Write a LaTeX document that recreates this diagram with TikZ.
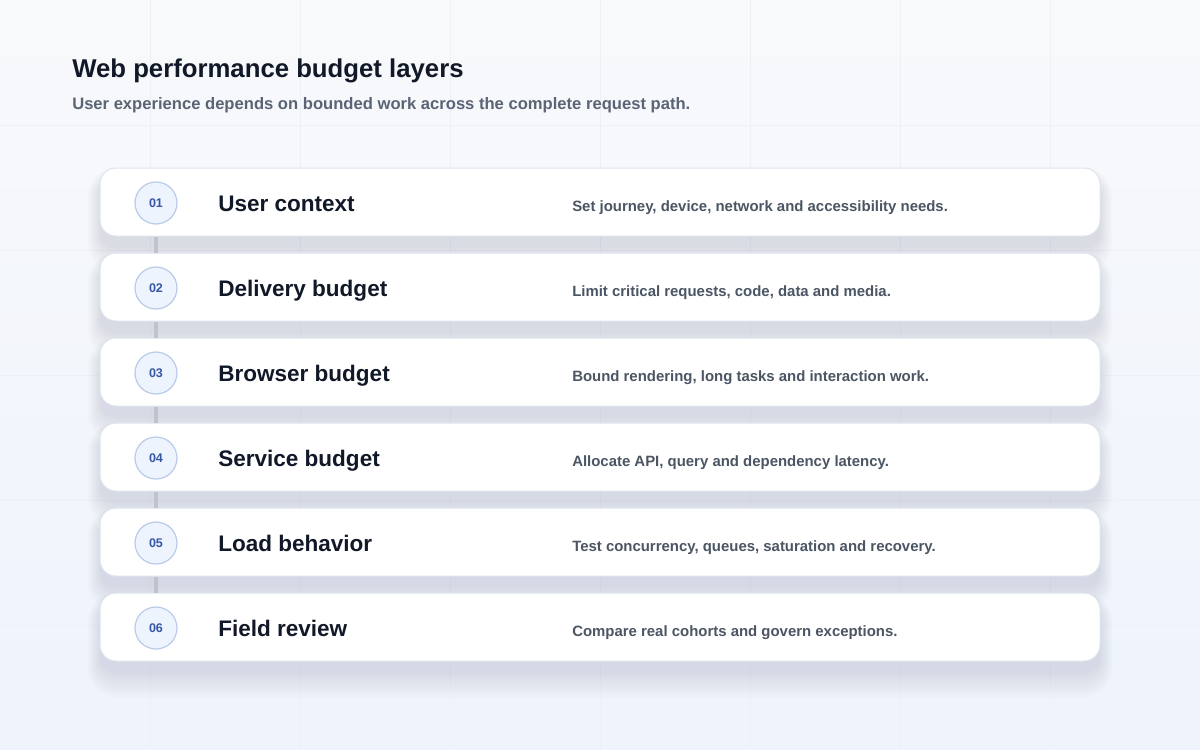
\documentclass[tikz,border=0pt]{standalone}
\usepackage{fontspec}
\setmainfont{Liberation Sans}
\usepackage{tikz}
\usetikzlibrary{calc, positioning}

\definecolor{inkdark}{HTML}{111827}
\definecolor{inksub}{HTML}{5A6475}
\definecolor{inkdesc}{HTML}{4B5563}
\definecolor{badgeink}{HTML}{3557A5}
\definecolor{badgefill}{HTML}{EEF4FD}
\definecolor{badgeline}{HTML}{B9CBE8}
\definecolor{linkgray}{HTML}{BFC3CC}
\definecolor{cardline}{HTML}{DDE3EE}
\definecolor{gridline}{HTML}{EDF0F6}
\definecolor{shadowcol}{HTML}{3C4A6E}
\definecolor{bgtop}{HTML}{F8F9FB}
\definecolor{bgbottom}{HTML}{EEF3FC}

\tikzset{
  card/.style={draw=cardline, line width=0.75pt, fill=white, rounded corners=12pt,
               minimum width=750pt, minimum height=51pt, inner sep=0pt},
  badge/.style={circle, draw=badgeline, line width=0.9pt, fill=badgefill,
                minimum size=31.5pt, inner sep=0pt, text=badgeink,
                font=\fontsize{9.4}{10}\selectfont\bfseries},
  cardtitle/.style={anchor=base west, inner sep=0pt, text=inkdark,
                    font=\fontsize{16.9}{19}\selectfont\bfseries},
  carddesc/.style={anchor=base west, inner sep=0pt, text=inkdesc,
                   font=\fontsize{11.2}{13}\selectfont\bfseries},
  link/.style={draw=linkgray, line width=2.4pt},
}

\begin{document}
\begin{tikzpicture}[x=0.75pt, y=-0.75pt]

% --- Canvas and background ---
\useasboundingbox (0,0) rectangle (1200,750);
\shade[top color=bgtop, bottom color=bgbottom] (0,0) rectangle (1200,750);
\foreach \gx in {150,300,...,1050} \draw[gridline, line width=0.75pt] (\gx,0) -- (\gx,750);
\foreach \gy in {125,250,...,625} \draw[gridline, line width=0.75pt] (0,\gy) -- (1200,\gy);

% --- Heading ---
\node[anchor=base west, inner sep=0pt, text=inkdark, font=\fontsize{19.3}{23}\selectfont\bfseries]
  (heading) at (72,77) {Web performance budget layers};
\node[anchor=base west, inner sep=0pt, text=inksub, font=\fontsize{12.45}{15}\selectfont\bfseries]
  (subheading) at (72,109) {User experience depends on bounded work across the complete request path.};

% --- Soft shadows under the cards ---
\foreach \cy in {202,287,372,457,542,627}
  \foreach \e in {0,3,...,24}
    \fill[shadowcol, opacity=0.016, rounded corners={(16+\e/2)*0.75pt}]
      (100-\e/2,\cy-34+12-\e/2) rectangle (1100+\e/2,\cy+34+12+\e);

% --- Cards ---
\node[card] (c1) at (600,202) {};
\node[card] (c2) at (600,287) {};
\node[card] (c3) at (600,372) {};
\node[card] (c4) at (600,457) {};
\node[card] (c5) at (600,542) {};
\node[card] (c6) at (600,627) {};

% --- Step badges ---
\node[badge] (n1) at (156,203) {01};
\node[badge] (n2) at (156,288) {02};
\node[badge] (n3) at (156,373) {03};
\node[badge] (n4) at (156,458) {04};
\node[badge] (n5) at (156,543) {05};
\node[badge] (n6) at (156,628) {06};

% --- Links between steps ---
\draw[link] (n1 |- c1.south) -- (n2 |- c2.north);
\draw[link] (n2 |- c2.south) -- (n3 |- c3.north);
\draw[link] (n3 |- c3.south) -- (n4 |- c4.north);
\draw[link] (n4 |- c4.south) -- (n5 |- c5.north);
\draw[link] (n5 |- c5.south) -- (n6 |- c6.north);

% --- Layer names ---
\node[cardtitle] (t1) at (218,211) {User context};
\node[cardtitle] (t2) at (218,296) {Delivery budget};
\node[cardtitle] (t3) at (218,381) {Browser budget};
\node[cardtitle] (t4) at (218,466) {Service budget};
\node[cardtitle] (t5) at (218,551) {Load behavior};
\node[cardtitle] (t6) at (218,636) {Field review};

% --- Descriptions ---
\node[carddesc] (d1) at (572,211) {Set journey, device, network and accessibility needs.};
\node[carddesc] (d2) at (572,296) {Limit critical requests, code, data and media.};
\node[carddesc] (d3) at (572,381) {Bound rendering, long tasks and interaction work.};
\node[carddesc] (d4) at (572,466) {Allocate API, query and dependency latency.};
\node[carddesc] (d5) at (572,551) {Test concurrency, queues, saturation and recovery.};
\node[carddesc] (d6) at (572,636) {Compare real cohorts and govern exceptions.};

\end{tikzpicture}
\end{document}
